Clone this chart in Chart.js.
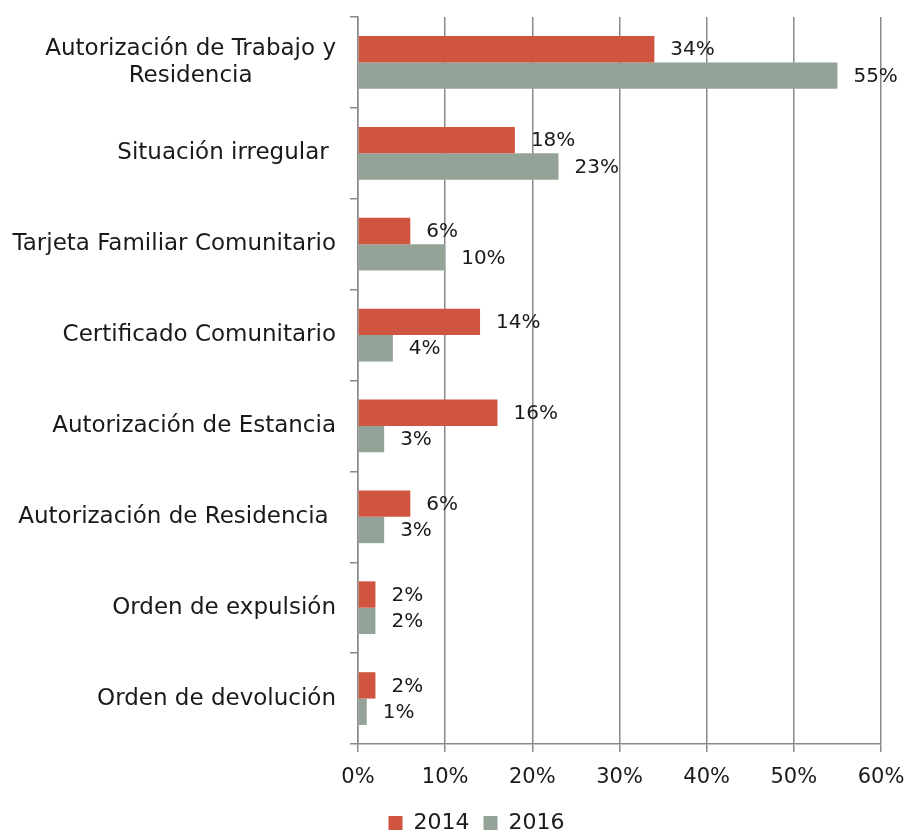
<!DOCTYPE html>
<html>
<head>
<meta charset="utf-8">
<script src="https://cdn.jsdelivr.net/npm/chart.js@4/dist/chart.umd.min.js"></script>
<style>
  html, body { margin: 0; padding: 0; background: #fff; }
  #wrap { width: 908px; height: 836px; position: relative; }
</style>
</head>
<body>
<div id="wrap"><canvas id="chart"></canvas></div>
<script>
// Datos
const categorias = [
    ['Autorización de Trabajo y', 'Residencia'],
    ['Situación irregular '],
    ['Tarjeta Familiar Comunitario'],
    ['Certificado Comunitario'],
    ['Autorización de Estancia'],
    ['Autorización de Residencia '],
    ['Orden de expulsión'],
    ['Orden de devolución']
];
const serie2014 = [34, 18, 6, 14, 16, 6, 2, 2];
const serie2016 = [55, 23, 10, 4, 3, 3, 2, 1];
const ticksX = [0, 10, 20, 30, 40, 50, 60];

const FONT = '"DejaVu Sans", sans-serif';
const TEXT = '#1a1a1a';
const GRID = '#8a8a8a';

// Etiquetas del eje Y: bloque alineado a la derecha, líneas centradas
const etiquetasY = {
    id: 'etiquetasY',
    afterDraw(chart) {
        const ctx = chart.ctx;
        const y = chart.scales.y;
        ctx.save();
        ctx.font = '23px ' + FONT;
        ctx.fillStyle = TEXT;
        ctx.textAlign = 'center';
        ctx.textBaseline = 'middle';
        const lh = 27;
        categorias.forEach((lines, i) => {
            const cy = y.getPixelForValue(i);
            const w = Math.max(...lines.map(t => ctx.measureText(t).width));
            const right = y.right - 22;
            const cx = right - w / 2;
            const y0 = cy - (lines.length - 1) * lh / 2;
            lines.forEach((t, k) => {
                const extra = ctx.measureText(t).width - ctx.measureText(t.trimEnd()).width;
                ctx.fillText(t.trimEnd(), cx - extra / 2, y0 + k * lh);
            });
        });
        ctx.restore();
    }
};

// Etiquetas de valor al final de cada barra
const valores = {
    id: 'valores',
    afterDatasetsDraw(chart) {
        const ctx = chart.ctx;
        ctx.save();
        ctx.font = '20px ' + FONT;
        ctx.fillStyle = TEXT;
        ctx.textAlign = 'left';
        ctx.textBaseline = 'middle';
        chart.data.datasets.forEach((ds, di) => {
            const meta = chart.getDatasetMeta(di);
            meta.data.forEach((bar, i) => {
                ctx.fillText(ds.data[i] + '%', bar.x + 16, bar.y + 1);
            });
        });
        ctx.restore();
    }
};

// Desplaza la leyenda como en el original
const moverLeyenda = {
    id: 'moverLeyenda',
    afterLayout(chart) {
        const lg = chart.legend;
        lg.left += 36;
        lg.right += 36;
        lg.top += 8;
        lg.bottom += 8;
    }
};

new Chart(document.getElementById('chart'), {
    type: 'bar',
    data: {
        labels: categorias.map(c => c.join(' ')),
        datasets: [
            { label: '2014', data: serie2014, backgroundColor: '#CF5540' },
            { label: '2016', data: serie2016, backgroundColor: '#94A397' }
        ]
    },
    options: {
        indexAxis: 'y',
        responsive: true,
        maintainAspectRatio: false,
        animation: false,
        categoryPercentage: 0.58,
        barPercentage: 1,
        layout: { padding: { top: 17, right: 27, left: 0, bottom: 0 } },
        plugins: {
            tooltip: { enabled: false },
            legend: {
                position: 'bottom',
                labels: {
                    font: { family: FONT, size: 22 },
                    color: TEXT,
                    boxWidth: 14,
                    boxHeight: 14,
                    padding: 14
                }
            }
        },
        scales: {
            x: {
                min: 0,
                max: 60,
                afterBuildTicks(s) { s.ticks = ticksX.map(v => ({ value: v })); },
                afterFit(s) { s.height = 46; s.paddingLeft = 0; s.paddingRight = 0; },
                ticks: {
                    callback: v => v + '%',
                    font: { family: FONT, size: 21 },
                    color: TEXT,
                    padding: 13
                },
                grid: { color: GRID, lineWidth: 1.5, tickLength: 8 },
                border: { color: GRID, width: 1.5 }
            },
            y: {
                afterFit(s) { s.width = 358; },
                ticks: { display: false },
                grid: { drawOnChartArea: false, color: GRID, lineWidth: 1.5, tickLength: 8, offset: true },
                border: { color: GRID, width: 1.5 }
            }
        }
    },
    plugins: [etiquetasY, valores, moverLeyenda]
});
</script>
</body>
</html>
